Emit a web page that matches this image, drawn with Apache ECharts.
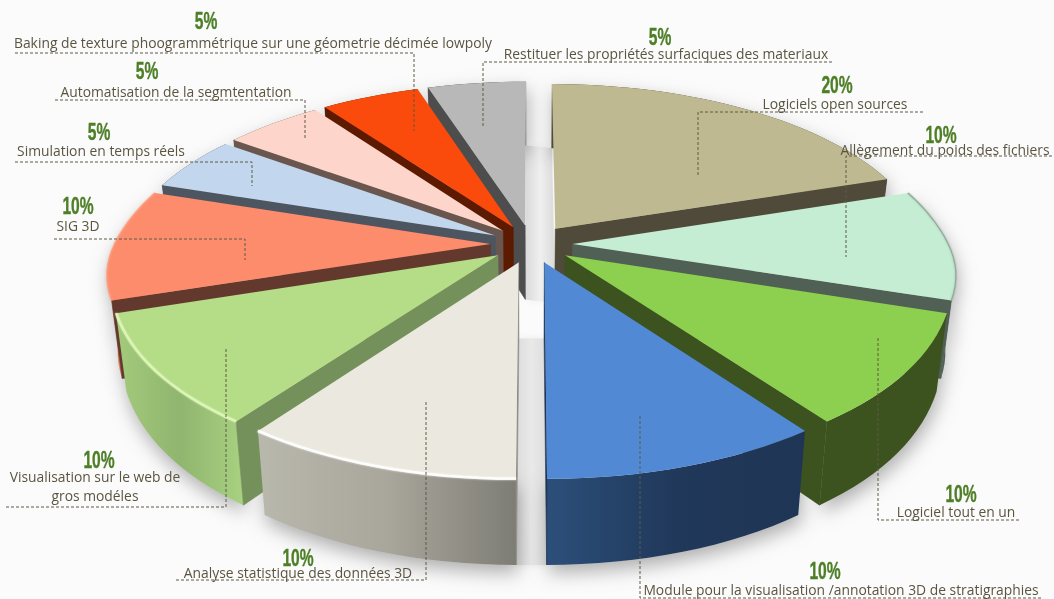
<!DOCTYPE html>
<html><head><meta charset="utf-8">
<style>html,body{margin:0;padding:0;background:#fbfbfb}#c{width:1054px;height:599px}</style>
<script src="https://cdn.jsdelivr.net/npm/echarts@6/dist/echarts.min.js"></script>
</head><body><div id="c"></div>
<script>
// ---- data ----
const categories = [
  "Logiciels open sources",
  "Allègement du poids des fichiers",
  "Logiciel tout en un",
  "Module pour la visualisation /annotation 3D de stratigraphies",
  "Analyse statistique des données 3D",
  "Visualisation sur le web de\ngros modéles",
  "SIG 3D",
  "Simulation en temps réels",
  "Automatisation de la segmtentation",
  "Baking de texture phoogrammétrique sur une géometrie décimée lowpoly",
  "Restituer les propriétés surfaciques des materiaux"
];
const values = [20, 10, 10, 10, 10, 10, 10, 5, 5, 5, 5];

// ---- styles ----
const topColors = ["#BFB992","#C4EDD3","#8DCF4E","#5289D4","#EBE9DF","#B5DC87","#FD8C6D","#C2D7EE","#FDD5CB","#FA4A0C","#B8B8B8"];
const cutColors = ["#4F4A39","#506055","#3C521F","#1F3555","#8E8D84","#75915B","#62392C","#4D5560","#69574F","#5C1A00","#4D4D4D"];
const wallStops = [
  ["#4F4A39","#4F4A39"],["#5D7064","#4A5A50"],["#3C521F","#3C521F"],
  ["#2C4F7A","#20385A","#1F3555"],["#B9B8AD","#A9A69C","#7E7D75"],
  ["#A3CB7B","#90B56F","#A8D180"],["#E8845F","#F08A66"],["#4D5560","#4D5560"],
  ["#69574F","#69574F"],["#5C1A00","#5C1A00"],["#4D4D4D","#4D4D4D"]
];
const rimLines = [null,"#8FA898",null,null,"#FFFFFF","#DDF7B8","#FD9A7A",null,null,null,null];
const rimWidths = [0,1.2,0,0,2.5,2.5,1.5,0,0,0,0];
// label layout: [pctX,pctY,textX,textY, leader polyline]
const labelLayout = [
  [837,86, 835,103, [[923,112],[698,112],[698,177]]],
  [941,136, 945,149, [[1052,156],[846,156],[846,257]]],
  [961,495, 956,511, [[1019,520],[878,520],[878,336]]],
  [825,572, 841,589, [[1041,598],[640,598],[640,414]]],
  [298,559, 298,572, [[176,580],[426,580],[426,402]]],
  [99,461, 95,476, [[6,507],[226,507],[226,347]]],
  [78,207, 78,225, [[54,239],[245,239],[245,260]]],
  [99,133, 101,150, [[15,162],[252,162],[252,186]]],
  [147,72, 176,91, [[55,100],[305,100],[305,139]]],
  [206,22, 253,42, [[15,53],[414,53],[414,131]]],
  [660,38, 666,53, [[832,62],[483,62],[483,126]]]
];
const cx=531.5, cy=244, A=373, B=173.5, K=0.1666, EXPL=0.11, SHRINK=0.975;
const total = values.reduce((a,b)=>a+b,0);
const starts = values.map((v,i)=>values.slice(0,i).reduce((a,b)=>a+b,0)/total*Math.PI*2);
const spans = values.map(v=>v/total*Math.PI*2);

function proj(th,r,ph){
  const u=r*Math.sin(th)+EXPL*Math.sin(ph), v=r*Math.cos(th)+EXPL*Math.cos(ph), s=1/(1+K*v);
  const bulge=r*3.5*Math.exp(-Math.pow((v+0.15)/0.25,2));
  return {x:cx+(A+bulge)*u*s, y:cy-B*v*s, v};
}
function low(p){ return [cx+(p.x-cx)*SHRINK, p.y+75-10*p.v]; }
const pt=p=>[p.x,p.y];
// soft band cast on the background in the gap between the two slices that meet at angle th
function gapBand(a,b,th,edgeTone,midTone){
  const ma=starts[a]+spans[a]/2, mb=starts[b]+spans[b]/2;
  const ea=proj(th,1,ma), aa=proj(0,0,ma), eb=proj(th,1,mb), ab=proj(0,0,mb);
  const corner=p=>[p.x,low(p)[1]];
  return {type:'polygon',z2:1,shape:{points:[corner(ea),corner(eb),corner(ab),corner(aa)]},style:{
    fill:new echarts.graphic.LinearGradient(0,0,1,0,[{offset:0,color:edgeTone},{offset:0.5,color:midTone},{offset:1,color:edgeTone}]),
    shadowBlur:7,shadowColor:midTone}};
}

function renderItem(params,api){
  const i=params.dataIndex, val=api.value(0);
  const a0=starts[i], a1=a0+val/total*Math.PI*2, mid=(a0+a1)/2;
  const base=10+Math.round((Math.PI-Math.abs(mid-Math.PI))*100)*10;
  const n=Math.max(8,Math.round((a1-a0)/0.04)), rim=[];
  for(let j=0;j<=n;j++) rim.push(proj(a0+(a1-a0)*j/n,1,mid));
  const apex=proj(0,0,mid);
  const children=[];
  const grad=new echarts.graphic.LinearGradient(0,0,1,0,wallStops[i].map((c,k,arr)=>({offset:k/(arr.length-1),color:c})));
  const wall=rim.map(pt).concat(rim.map(low).reverse());
  // ground shadow, below every slice
  children.push({type:'polygon',z2:2,shape:{points:wall},style:{fill:'#cfcfcf',shadowBlur:18,shadowColor:'rgba(0,0,0,0.3)',shadowOffsetY:8,shadowOffsetX:2}});
  // outer wall
  children.push({type:'polygon',z2:base+1,shape:{points:wall},style:{fill:grad}});
  // radial cut face
  const edge=mid<Math.PI?rim[rim.length-1]:rim[0];
  children.push({type:'polygon',z2:base+2,shape:{points:[pt(apex),pt(edge),low(edge),low(apex)]},style:{fill:cutColors[i],stroke:cutColors[i],lineWidth:0.6}});
  if(i===10) children.push(gapBand(10,0,0,'#D9D9D9','#F0F0F0'));
  if(i===3) children.push(gapBand(4,3,Math.PI,'#DCDCDC','#E9E9E9'));
  // top face
  children.push({type:'polygon',z2:base+3,shape:{points:[pt(apex)].concat(rim.map(pt))},style:{fill:topColors[i]}});
  if(rimLines[i]) children.push({type:'polyline',z2:base+4,shape:{points:rim.map(pt)},style:{stroke:rimLines[i],lineWidth:rimWidths[i],fill:null,shadowBlur:2,shadowColor:rimLines[i],opacity:0.85}});
  // leader + labels
  const L=labelLayout[i], T=100000;
  children.push({type:'polyline',z2:T,shape:{points:L[4]},style:{stroke:'#5F5A45',lineWidth:1,lineDash:[3,2],fill:null}});
  children.push({type:'text',z2:T+1,x:L[0],y:L[1],scaleX:0.65,style:{text:val+'%',x:0,y:0,align:'center',verticalAlign:'middle',fontFamily:'"Liberation Sans"',fontWeight:'bold',fontSize:24,fill:'#4C7F26',stroke:'#4C7F26',lineWidth:0.4}});
  children.push({type:'text',z2:T+1,style:{text:categories[i],x:L[2],y:L[3]-7.5,align:'center',verticalAlign:'top',lineHeight:19,fontFamily:'"Open Sans"',fontSize:13.85,fill:'#5A5540'}});
  return {type:'group',children};
}
const chart=echarts.init(document.getElementById('c'),null,{renderer:'canvas'});
chart.setOption({
  animation:false, backgroundColor:'#FBFBFB',
  series:[{type:'custom',coordinateSystem:'none',silent:true,clip:false,renderItem,data:values.map(v=>[v])}]
});
</script></body></html>
